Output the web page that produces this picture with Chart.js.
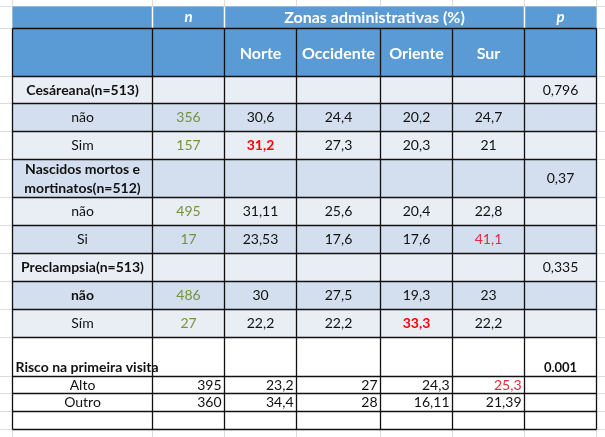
<!DOCTYPE html>
<html>
<head>
<meta charset="utf-8">
<script src="https://cdn.jsdelivr.net/npm/chart.js@4/dist/chart.umd.min.js"></script>
<style>
  html, body { margin: 0; padding: 0; background: #fff; }
  #wrap { width: 605px; height: 437px; }
</style>
</head>
<body>
<div id="wrap"><canvas id="table" width="605" height="437"></canvas></div>
<script>
// table content
const groupTitle = "Zonas administrativas (%)";
const zoneNames = ["Norte", "Occidente", "Oriente", "Sur"];
const rowLabels = [
  "Cesáreana(n=513)", "não", "Sim",
  ["Nascidos mortos e", "mortinatos(n=512)"], "não", "Si",
  "Preclampsia(n=513)", "não", "Sím",
  "Risco na primeira visita", "Alto", "Outro", ""
];
const nValues = ["", "356", "157", "", "495", "17", "", "486", "27", "", "395", "360", ""];
const norte = ["", "30,6", "31,2", "", "31,11", "23,53", "", "30", "22,2", "", "23,2", "34,4", ""];
const occidente = ["", "24,4", "27,3", "", "25,6", "17,6", "", "27,5", "22,2", "", "27", "28", ""];
const oriente = ["", "20,2", "20,3", "", "20,4", "17,6", "", "19,3", "33,3", "", "24,3", "16,11", ""];
const sur = ["", "24,7", "21", "", "22,8", "41,1", "", "23", "22,2", "", "25,3", "21,39", ""];
const pValues = ["0,796", "", "", "0,37", "", "", "0,335", "", "", "0.001", "", "", ""];

// layout (sheet pixels)
const colEdges = [12.5, 152.5, 224.5, 296.5, 380.5, 452.5, 524.5, 596.5];
const rowEdges = [6.5, 28.5, 76.5, 103.5, 131.5, 159.5, 197.5, 225.5, 253.5, 281.5, 309.5, 337.5, 376.5, 393.5, 411.5, 429.5];
const bands = ["l", "d", "l", "d", "l", "d", "l", "d", "l", "w", "w", "w", "w"];
const bandColor = { l: "#e9edf4", d: "#d3dfee", w: "#ffffff" };
const headerBlue = "#5b9bd5";
const FONT = "Lato, 'DejaVu Sans', sans-serif";

const boldRows = [0, 3, 6, 7, 9];
const redBold = { "2-1": true, "8-3": true };
const redThin = { "5-4": true, "10-4": true };

const tablePlugin = {
  id: "tableDraw",
  afterDraw(chart) {
    const ctx = chart.ctx;
    const X = (v) => chart.scales.x.getPixelForValue(v);
    const Y = (v) => chart.scales.y.getPixelForValue(v);
    const line = (x1, y1, x2, y2, color, w) => {
      ctx.strokeStyle = color;
      ctx.lineWidth = w;
      ctx.beginPath();
      ctx.moveTo(X(x1), Y(y1));
      ctx.lineTo(X(x2), Y(y2));
      ctx.stroke();
    };
    const text = (str, x, y, font, color, align) => {
      ctx.font = font;
      ctx.fillStyle = color;
      ctx.textAlign = align || "center";
      ctx.textBaseline = "middle";
      ctx.fillText(str, X(x), Y(y));
    };
    const left = colEdges[0], right = colEdges[colEdges.length - 1];
    const top = rowEdges[0], bottom = rowEdges[rowEdges.length - 1];

    ctx.save();
    // spreadsheet gridlines
    colEdges.forEach((cx) => line(cx, 0, cx, 437, "#dadcdd", 1));
    rowEdges.forEach((ry) => line(0, ry, 605, ry, "#dadcdd", 1));

    // header fills
    ctx.fillStyle = headerBlue;
    ctx.fillRect(X(left), Y(top), X(right) - X(left), Y(rowEdges[2]) - Y(top));
    // white separators in first header row
    [colEdges[1], colEdges[2], colEdges[6]].forEach((cx) =>
      line(cx, top, cx, rowEdges[1], "#ffffff", 1.5)
    );

    // body fills
    bands.forEach((b, i) => {
      ctx.fillStyle = bandColor[b];
      const y1 = Y(rowEdges[i + 2]), y2 = Y(rowEdges[i + 3]);
      ctx.fillRect(X(left), y1, X(right) - X(left), y2 - y1);
    });

    // black borders
    for (let i = 1; i < rowEdges.length; i++) line(left, rowEdges[i], right, rowEdges[i], "#111", 1.3);
    colEdges.forEach((cx) => line(cx, rowEdges[1], cx, bottom, "#111", 1.3));

    // header text
    const midX = (i) => (colEdges[i] + colEdges[i + 1]) / 2;
    const midY = (i) => (rowEdges[i] + rowEdges[i + 1]) / 2;
    text("n", midX(1), midY(0), "italic bold 15px " + FONT, "#fff");
    text(groupTitle, (colEdges[2] + colEdges[6]) / 2, midY(0), "bold 16px " + FONT, "#fff");
    text("p", midX(6), midY(0), "italic bold 15px " + FONT, "#fff");
    zoneNames.forEach((z, k) => text(z, midX(k + 2), midY(1) + 1, "bold 16px " + FONT, "#fff"));

    // body text
    const columns = [nValues, norte, occidente, oriente, sur, pValues];
    rowLabels.forEach((lab, r) => {
      const yc = midY(r + 2);
      const bold = boldRows.includes(r);
      const f = (bold ? "bold " : "") + "14px " + FONT;
      if (Array.isArray(lab)) {
        text(lab[0], midX(0), yc - 9, f, "#111");
        text(lab[1], midX(0), yc + 10, f, "#111");
      } else if (r === 9) {
        text(lab, colEdges[0] + 3, rowEdges[r + 3] - 9, f, "#111", "left");
      } else {
        text(lab, midX(0), yc, f, "#111");
      }
      columns.forEach((col, c) => {
        const v = col[r];
        if (!v) return;
        const key = r + "-" + c;
        let color = "#111", font = "14px " + FONT;
        if (c === 0 && r < 9) color = "#76933c";
        if (redBold[key]) { color = "#ff0000"; font = "bold 14px " + FONT; }
        if (redThin[key]) color = "#e8283c";
        if (r === 9) {
          text(v, midX(c + 1), rowEdges[r + 3] - 9, "bold 13px " + FONT, "#111");
        } else if (r >= 10) {
          text(v, colEdges[c + 2] - 3, yc, font, color, "right");
        } else {
          text(v, midX(c + 1), yc, font, color);
        }
      });
    });
    ctx.restore();
  }
};

new Chart(document.getElementById("table"), {
  type: "scatter",
  data: { datasets: [] },
  options: {
    responsive: false,
    animation: false,
    layout: { padding: 0 },
    plugins: { legend: { display: false }, tooltip: { enabled: false } },
    scales: {
      x: { type: "linear", min: 0, max: 605, display: false },
      y: { type: "linear", min: 0, max: 437, reverse: true, display: false }
    }
  },
  plugins: [tablePlugin]
});
</script>
</body>
</html>
